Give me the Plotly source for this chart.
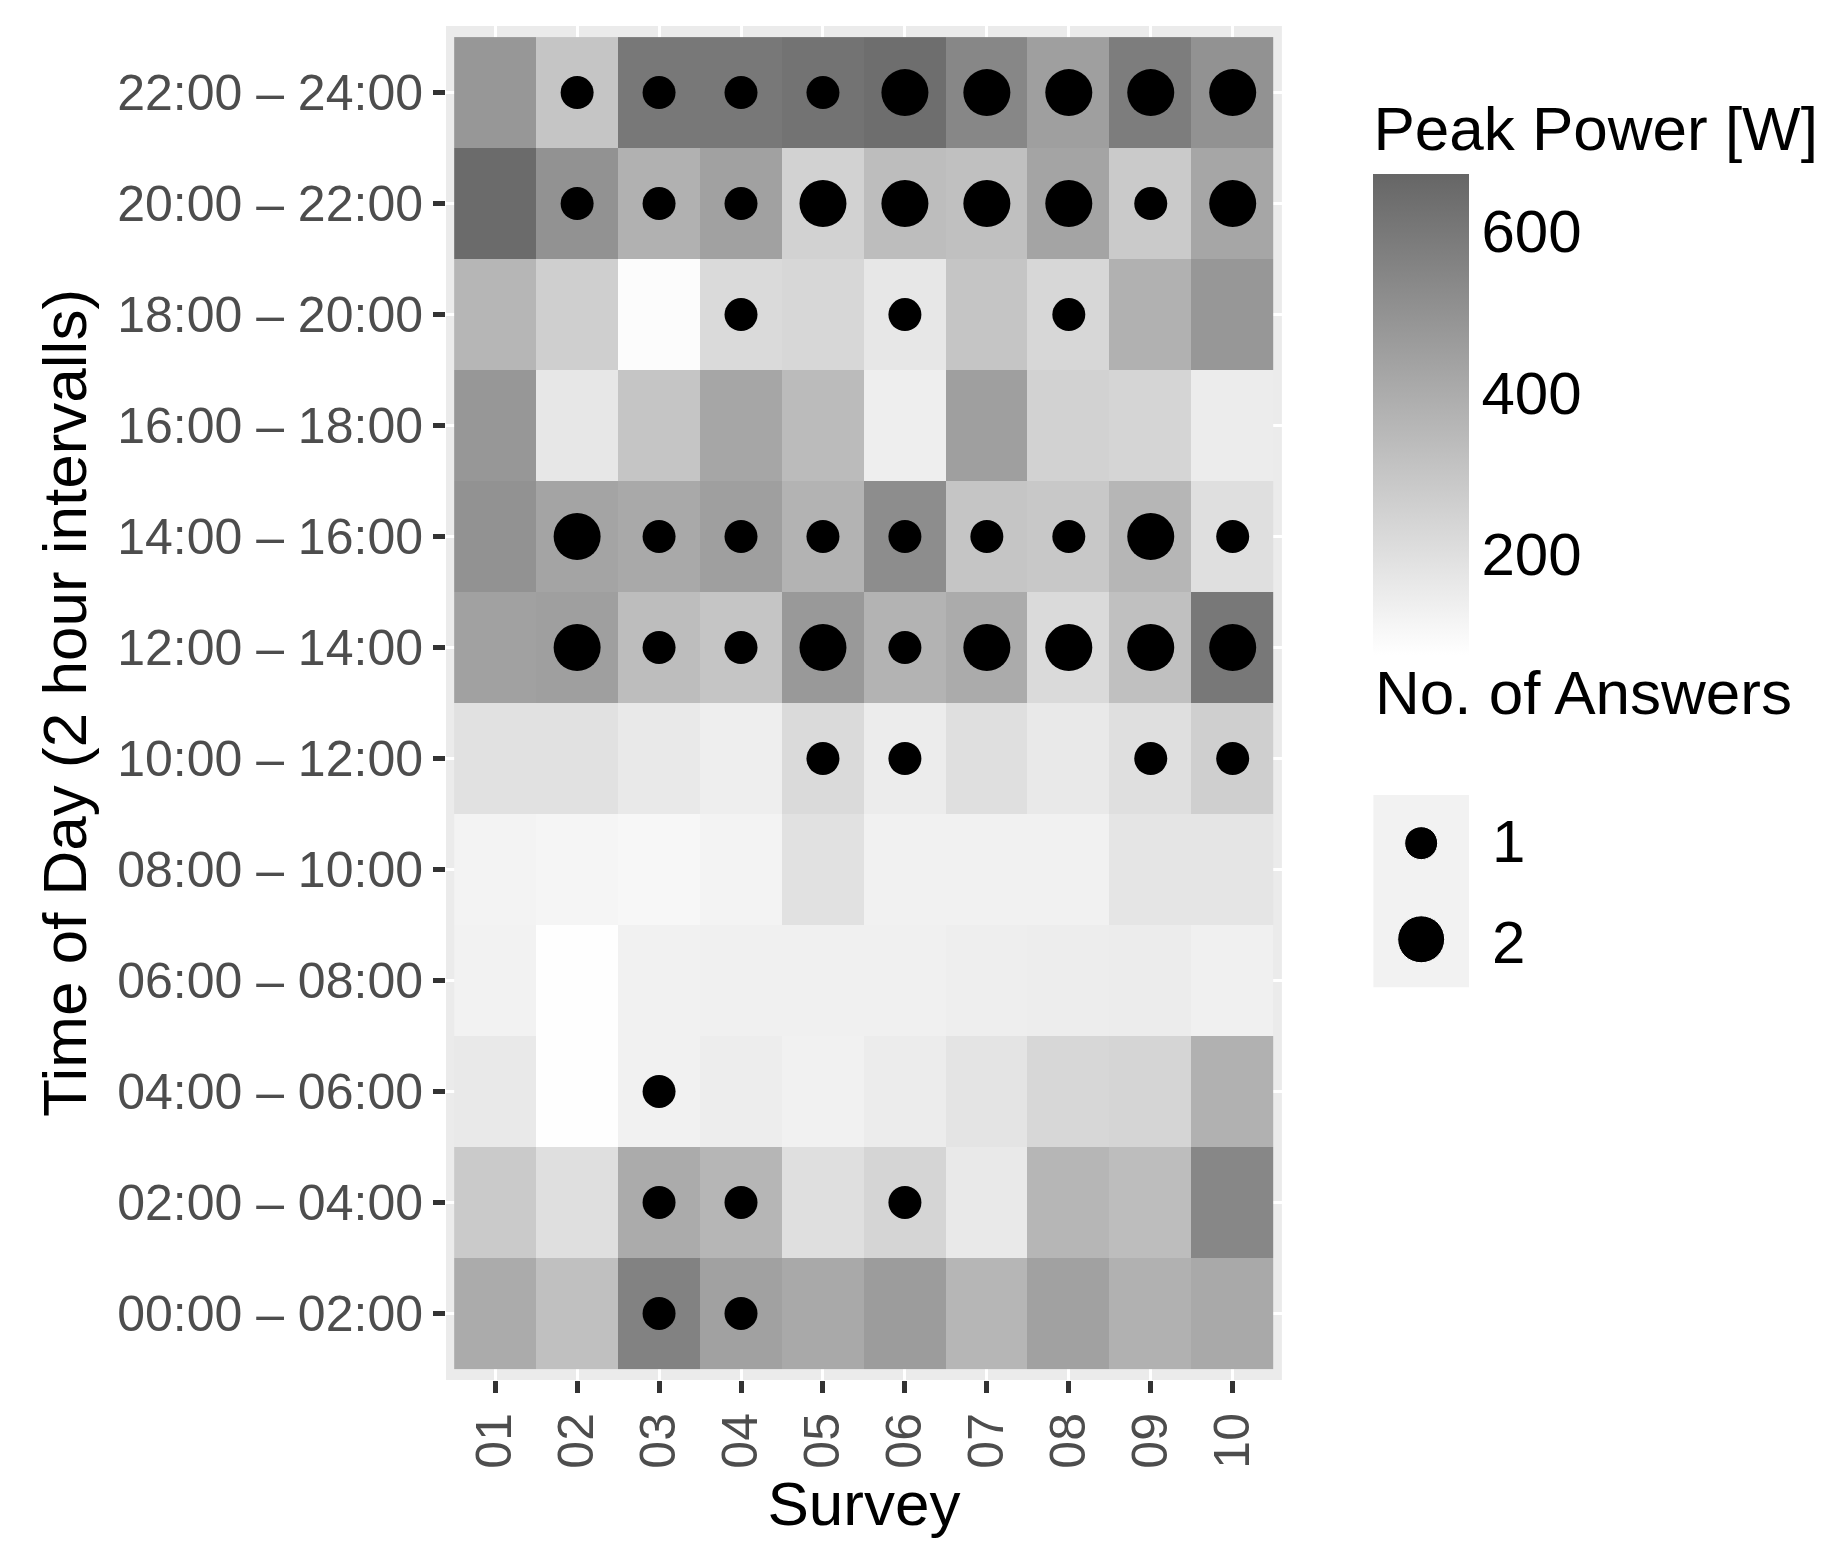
import plotly.graph_objects as go

surveys = ["01", "02", "03", "04", "05", "06", "07", "08", "09", "10"]
slots = ["00:00 – 02:00", "02:00 – 04:00", "04:00 – 06:00", "06:00 – 08:00",
         "08:00 – 10:00", "10:00 – 12:00", "12:00 – 14:00", "14:00 – 16:00",
         "16:00 – 18:00", "18:00 – 20:00", "20:00 – 22:00", "22:00 – 24:00"]

# peak power per slot (rows bottom -> top), columns = surveys 01..10
peak_power = [
    [400, 320, 560, 440, 410, 460, 360, 440, 380, 410],
    [280, 200, 400, 360, 200, 240, 160, 360, 330, 540],
    [160, 80, 130, 145, 130, 150, 180, 230, 240, 380],
    [125, 80, 130, 135, 135, 135, 140, 145, 150, 135],
    [120, 115, 105, 120, 190, 130, 130, 130, 175, 175],
    [190, 190, 160, 140, 220, 150, 200, 160, 200, 260],
    [440, 450, 330, 300, 470, 370, 400, 220, 320, 600],
    [500, 430, 410, 450, 370, 520, 300, 290, 360, 200],
    [480, 170, 300, 420, 340, 140, 450, 250, 240, 150],
    [360, 260, 85, 220, 230, 170, 300, 230, 380, 480],
    [650, 500, 380, 440, 250, 330, 320, 430, 280, 420],
    [480, 300, 600, 600, 620, 640, 540, 450, 580, 500],
]

# number of answers per slot (0 = none)
answers = [
    [0, 0, 1, 1, 0, 0, 0, 0, 0, 0],
    [0, 0, 1, 1, 0, 1, 0, 0, 0, 0],
    [0, 0, 1, 0, 0, 0, 0, 0, 0, 0],
    [0, 0, 0, 0, 0, 0, 0, 0, 0, 0],
    [0, 0, 0, 0, 0, 0, 0, 0, 0, 0],
    [0, 0, 0, 0, 1, 1, 0, 0, 1, 1],
    [0, 2, 1, 1, 2, 1, 2, 2, 2, 2],
    [0, 2, 1, 1, 1, 1, 1, 1, 2, 1],
    [0, 0, 0, 0, 0, 0, 0, 0, 0, 0],
    [0, 0, 0, 1, 0, 1, 0, 1, 0, 0],
    [0, 1, 1, 1, 2, 2, 2, 2, 1, 2],
    [0, 1, 1, 1, 1, 2, 2, 2, 2, 2],
]
legend_counts = [1, 2]
dot_size = {1: 33, 2: 47}

FONT = "Liberation Sans, Arial, sans-serif"

fig = go.Figure()

fig.add_trace(go.Heatmap(
    x=surveys, y=slots, z=peak_power,
    colorscale=[[0, "#FFFFFF"], [1, "#666666"]],
    zmin=75, zmax=670, xgap=0, ygap=0,
    colorbar=dict(
        title=dict(text="Peak Power [W]", side="top", font=dict(size=62, color="black", family=FONT)),
        tickvals=[200, 400, 600], ticks="", outlinewidth=0,
        tickfont=dict(size=60, color="black", family=FONT),
        thickness=96, len=0.41, lenmode="fraction",
        x=0.689, xanchor="left", y=0.945, yanchor="top", ypad=0, xpad=0,
    ),
))

px_, py_, ps_ = [], [], []
for i, row in enumerate(answers):
    for j, n in enumerate(row):
        if n > 0:
            px_.append(surveys[j])
            py_.append(slots[i])
            ps_.append(dot_size[n])
fig.add_trace(go.Scatter(x=px_, y=py_, mode="markers",
                         marker=dict(color="black", size=ps_, opacity=1, line=dict(width=0)),
                         showlegend=False))

# size legend keys
fig.add_trace(go.Scatter(x=[0.5, 0.5], y=[1.5, 0.5], mode="markers",
                         marker=dict(color="black", opacity=1,
                                     size=[dot_size[c] for c in legend_counts]),
                         xaxis="x2", yaxis="y2", showlegend=False, hoverinfo="skip"))

fig.add_shape(type="rect", xref="x domain", yref="y domain", x0=0, x1=1, y0=0, y1=1,
              fillcolor="#EBEBEB", line_width=0, layer="below")
fig.add_shape(type="rect", xref="x2 domain", yref="y2 domain", x0=0, x1=1, y0=0, y1=1,
              fillcolor="#F2F2F2", line_width=0, layer="below")

ann = [dict(text="No. of Answers", xref="paper", yref="paper", x=0.689, y=0.508,
            xanchor="left", yanchor="middle", showarrow=False,
            font=dict(size=62, color="black", family=FONT))]
for c, yy in zip(legend_counts, [0.398, 0.323]):
    ann.append(dict(text=str(c), xref="paper", yref="paper", x=0.776, y=yy,
                    xanchor="left", yanchor="middle", showarrow=False,
                    font=dict(size=60, color="black", family=FONT)))

fig.update_layout(
    width=1822, height=1567,
    margin=dict(l=438, r=20, t=18, b=195),
    paper_bgcolor="white", plot_bgcolor="white",
    annotations=ann,
    xaxis=dict(domain=[0, 0.621], range=[-0.6, 9.6], tickangle=-90,
               title=dict(text="Survey", font=dict(size=62, color="black", family=FONT), standoff=6),
               tickfont=dict(size=50, color="#4D4D4D", family=FONT),
               ticks="outside", ticklen=12, tickwidth=5, tickcolor="#333333",
               showgrid=True, gridcolor="white", gridwidth=3, zeroline=False, showline=False),
    yaxis=dict(range=[-0.6, 11.6],
               title=dict(text="Time of Day (2 hour intervalls)", font=dict(size=62, color="black", family=FONT), standoff=10),
               tickfont=dict(size=50, color="#4D4D4D", family=FONT),
               ticks="outside", ticklen=12, tickwidth=5, tickcolor="#333333",
               showgrid=True, gridcolor="white", gridwidth=3, zeroline=False, showline=False),
    xaxis2=dict(domain=[0.689, 0.760], range=[0, 1], anchor="y2", visible=False),
    yaxis2=dict(domain=[0.290, 0.432], range=[0, 2], anchor="x2", visible=False),
)

fig.write_html("out.html")
